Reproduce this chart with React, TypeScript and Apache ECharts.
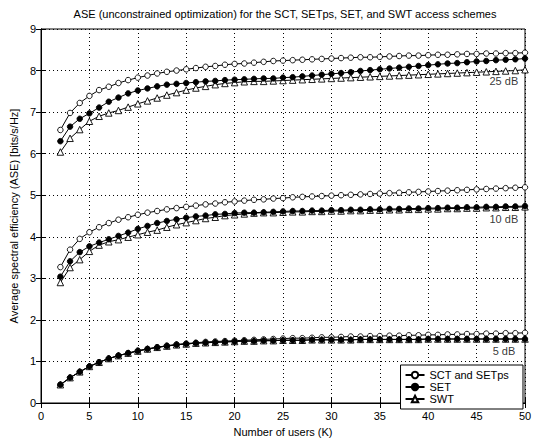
import React, { useEffect, useRef } from "react";
import * as echarts from "echarts";

// Number of users K
const users = [
  2, 3, 4, 5, 6, 7, 8, 9, 10, 11, 12, 13, 14, 15, 16, 17, 18, 19, 20, 21, 22, 23, 24, 25, 26,
  27, 28, 29, 30, 31, 32, 33, 34, 35, 36, 37, 38, 39, 40, 41, 42, 43, 44, 45, 46, 47, 48, 49, 50,
];

// 25 dB
const sct25 = [
  6.57, 6.98, 7.22, 7.39, 7.53, 7.61, 7.7, 7.77, 7.83, 7.88, 7.93, 7.97, 8.0, 8.03, 8.06, 8.09,
  8.11, 8.14, 8.16, 8.17, 8.19, 8.21, 8.23, 8.24, 8.25, 8.26, 8.27, 8.28, 8.29, 8.3, 8.31, 8.32,
  8.32, 8.33, 8.34, 8.35, 8.36, 8.36, 8.37, 8.38, 8.38, 8.39, 8.4, 8.4, 8.41, 8.41, 8.42, 8.42, 8.43,
];
const set25 = [
  6.3, 6.65, 6.84, 6.97, 7.11, 7.25, 7.35, 7.45, 7.52, 7.57, 7.62, 7.66, 7.68, 7.7, 7.72, 7.74,
  7.75, 7.77, 7.78, 7.79, 7.8, 7.81, 7.81, 7.83, 7.84, 7.86, 7.88, 7.9, 7.92, 7.94, 7.96, 7.99,
  8.01, 8.03, 8.05, 8.07, 8.09, 8.11, 8.13, 8.15, 8.17, 8.18, 8.2, 8.22, 8.23, 8.25, 8.26, 8.27, 8.29,
];
const swt25 = [
  6.04, 6.37, 6.58, 6.78, 6.9, 6.98, 7.04, 7.12, 7.2, 7.27, 7.34, 7.41, 7.47, 7.53, 7.58, 7.62,
  7.66, 7.69, 7.71, 7.73, 7.74, 7.74, 7.75, 7.76, 7.77, 7.78, 7.79, 7.8, 7.81, 7.82, 7.83, 7.84,
  7.85, 7.86, 7.87, 7.88, 7.89, 7.9, 7.91, 7.92, 7.93, 7.94, 7.95, 7.96, 7.97, 7.98, 7.99, 8.0, 8.02,
];

// 10 dB
const sct10 = [
  3.27, 3.69, 3.95, 4.11, 4.23, 4.33, 4.41, 4.47, 4.53, 4.58, 4.62, 4.66, 4.69, 4.72, 4.75, 4.78,
  4.8, 4.83, 4.85, 4.87, 4.89, 4.9, 4.92, 4.93, 4.95, 4.96, 4.97, 4.98, 4.99, 5.0, 5.01, 5.02,
  5.03, 5.04, 5.05, 5.06, 5.07, 5.08, 5.09, 5.1, 5.11, 5.12, 5.13, 5.14, 5.15, 5.16, 5.17, 5.18, 5.19,
];
const set10 = [
  3.04, 3.41, 3.63, 3.77, 3.86, 3.94, 4.02, 4.1, 4.19, 4.26, 4.33, 4.38, 4.42, 4.46, 4.49, 4.51,
  4.54, 4.55, 4.57, 4.58, 4.58, 4.59, 4.6, 4.61, 4.62, 4.62, 4.63, 4.63, 4.64, 4.64, 4.65, 4.65,
  4.66, 4.66, 4.67, 4.67, 4.68, 4.68, 4.69, 4.69, 4.7, 4.7, 4.71, 4.71, 4.72, 4.72, 4.73, 4.73, 4.74,
];
const swt10 = [
  2.9, 3.26, 3.45, 3.65, 3.8, 3.88, 3.93, 3.99, 4.05, 4.11, 4.16, 4.23, 4.29, 4.34, 4.39, 4.44,
  4.47, 4.51, 4.53, 4.55, 4.57, 4.58, 4.58, 4.59, 4.6, 4.6, 4.61, 4.61, 4.62, 4.62, 4.63, 4.63,
  4.64, 4.64, 4.65, 4.65, 4.66, 4.66, 4.67, 4.67, 4.68, 4.68, 4.69, 4.69, 4.7, 4.7, 4.71, 4.71, 4.72,
];

// 5 dB
const sct5 = [
  0.44, 0.61, 0.75, 0.88, 0.98, 1.07, 1.14, 1.2, 1.26, 1.3, 1.34, 1.38, 1.41, 1.43, 1.45, 1.47,
  1.48, 1.49, 1.5, 1.51, 1.52, 1.53, 1.54, 1.55, 1.56, 1.56, 1.57, 1.58, 1.58, 1.59, 1.6, 1.6,
  1.61, 1.61, 1.62, 1.62, 1.63, 1.63, 1.64, 1.64, 1.65, 1.65, 1.66, 1.66, 1.67, 1.67, 1.68, 1.68, 1.69,
];
const set5 = [
  0.44, 0.61, 0.75, 0.88, 0.98, 1.07, 1.14, 1.2, 1.25, 1.3, 1.34, 1.37, 1.4, 1.42, 1.44, 1.45,
  1.46, 1.47, 1.48, 1.49, 1.49, 1.5, 1.5, 1.51, 1.51, 1.51, 1.52, 1.52, 1.52, 1.52, 1.52, 1.53,
  1.53, 1.53, 1.53, 1.53, 1.53, 1.53, 1.54, 1.54, 1.54, 1.54, 1.54, 1.54, 1.54, 1.54, 1.54, 1.54, 1.54,
];
const swt5 = [
  0.44, 0.61, 0.75, 0.88, 0.98, 1.07, 1.14, 1.2, 1.25, 1.3, 1.34, 1.37, 1.4, 1.42, 1.44, 1.45,
  1.46, 1.47, 1.48, 1.49, 1.49, 1.5, 1.5, 1.51, 1.51, 1.51, 1.52, 1.52, 1.52, 1.52, 1.52, 1.53,
  1.53, 1.53, 1.53, 1.53, 1.53, 1.53, 1.54, 1.54, 1.54, 1.54, 1.54, 1.54, 1.54, 1.54, 1.54, 1.54, 1.54,
];

// SNR annotations: [label, K at right end of text, value]
const snrLabels: [string, number, number][] = [
  ["25 dB", 49.3, 7.74],
  ["10 dB", 49.3, 4.43],
  ["5 dB", 49.0, 1.26],
];

const FONT = "Liberation Sans, Arial, Helvetica, sans-serif";

const styles: Record<string, { symbol: string; size: number; fill: string }> = {
  "SCT and SETps": { symbol: "circle", size: 5.5, fill: "#fff" },
  SET: { symbol: "circle", size: 5.5, fill: "#000" },
  SWT: { symbol: "triangle", size: 6.5, fill: "#fff" },
};

function lineSeries(name: string, values: number[]) {
  const s = styles[name];
  return {
    type: "line",
    name,
    data: users.map((k, i) => [k, values[i]]),
    symbol: s.symbol,
    symbolSize: s.size,
    showSymbol: true,
    lineStyle: { color: "#000", width: 1 },
    itemStyle: { color: s.fill, borderColor: "#000", borderWidth: 0.9 },
    emphasis: { disabled: true },
    z: 3,
  };
}

export default function App() {
  const ref = useRef<HTMLDivElement>(null);

  useEffect(() => {
    if (!ref.current) return;
    const chart = echarts.init(ref.current, undefined, { renderer: "svg" });

    const groups = [
      [sct25, set25, swt25],
      [sct10, set10, swt10],
      [sct5, set5, swt5],
    ];
    const series: any[] = [];
    groups.forEach(([sct, set, swt]) => {
      series.push(lineSeries("SCT and SETps", sct));
      series.push(lineSeries("SWT", swt));
      series.push(lineSeries("SET", set));
    });
    series.push({
      type: "scatter",
      name: "snr",
      data: snrLabels.map(([t, k, v]) => ({ value: [k, v], name: t })),
      symbolSize: 0,
      label: {
        show: true,
        position: "left",
        distance: 0,
        formatter: (p: any) => p.name,
        color: "#000",
        fontFamily: FONT,
        fontSize: 11,
      },
      silent: true,
      z: 4,
    });

    const axisText = { color: "#000", fontFamily: FONT, fontSize: 11 };
    const dotted = { show: true, lineStyle: { color: "#000", width: 1, type: [1, 3] as any } };

    chart.setOption({
      animation: false,
      backgroundColor: "#fff",
      title: {
        text: "ASE (unconstrained optimization) for the SCT, SETps, SET, and SWT access schemes",
        left: 280,
        textAlign: "center",
        top: 3,
        textStyle: { color: "#000", fontFamily: FONT, fontSize: 11, fontWeight: "normal" },
      },
      grid: { left: 36, right: 10, top: 29, bottom: 30, show: true, borderColor: "#000", borderWidth: 1 },
      legend: {
        data: ["SCT and SETps", "SET", "SWT"],
        orient: "vertical",
        right: 12,
        bottom: 33,
        backgroundColor: "#fff",
        borderColor: "#000",
        borderWidth: 1,
        borderRadius: 0,
        padding: [4, 14, 4, 4],
        itemGap: 0,
        itemWidth: 19,
        itemHeight: 8,
        textStyle: { color: "#000", fontFamily: FONT, fontSize: 11, lineHeight: 12 },
        selectedMode: false,
      },
      xAxis: [
        {
          type: "value",
          min: 0,
          max: 50,
          interval: 5,
          name: "Number of users (K)",
          nameLocation: "middle",
          nameGap: 23,
          nameTextStyle: axisText,
          axisLine: { show: true, lineStyle: { color: "#000" } },
          axisTick: { show: true, inside: true, length: 5, lineStyle: { color: "#000" } },
          axisLabel: { ...axisText, margin: 7 },
          splitLine: dotted,
        },
        {
          type: "value",
          position: "top",
          min: 0,
          max: 50,
          interval: 5,
          axisLine: { show: true, lineStyle: { color: "#000" } },
          axisTick: { show: true, inside: true, length: 5, lineStyle: { color: "#000" } },
          axisLabel: { show: false },
          splitLine: { show: false },
        },
      ],
      yAxis: [
        {
          type: "value",
          min: 0,
          max: 9,
          interval: 1,
          name: "Average spectral efficiency (ASE) [bits/s/Hz]",
          nameLocation: "middle",
          nameGap: 19,
          nameTextStyle: axisText,
          axisLine: { show: true, lineStyle: { color: "#000" } },
          axisTick: { show: true, inside: true, length: 5, lineStyle: { color: "#000" } },
          axisLabel: { ...axisText, margin: 5 },
          splitLine: dotted,
        },
        {
          type: "value",
          position: "right",
          min: 0,
          max: 9,
          interval: 1,
          axisLine: { show: true, lineStyle: { color: "#000" } },
          axisTick: { show: true, inside: true, length: 5, lineStyle: { color: "#000" } },
          axisLabel: { show: false },
          splitLine: { show: false },
        },
      ],
      series,
    });

    return () => chart.dispose();
  }, []);

  return <div ref={ref} style={{ width: 535, height: 442, position: "absolute", left: 0, top: 0 }} />;
}
